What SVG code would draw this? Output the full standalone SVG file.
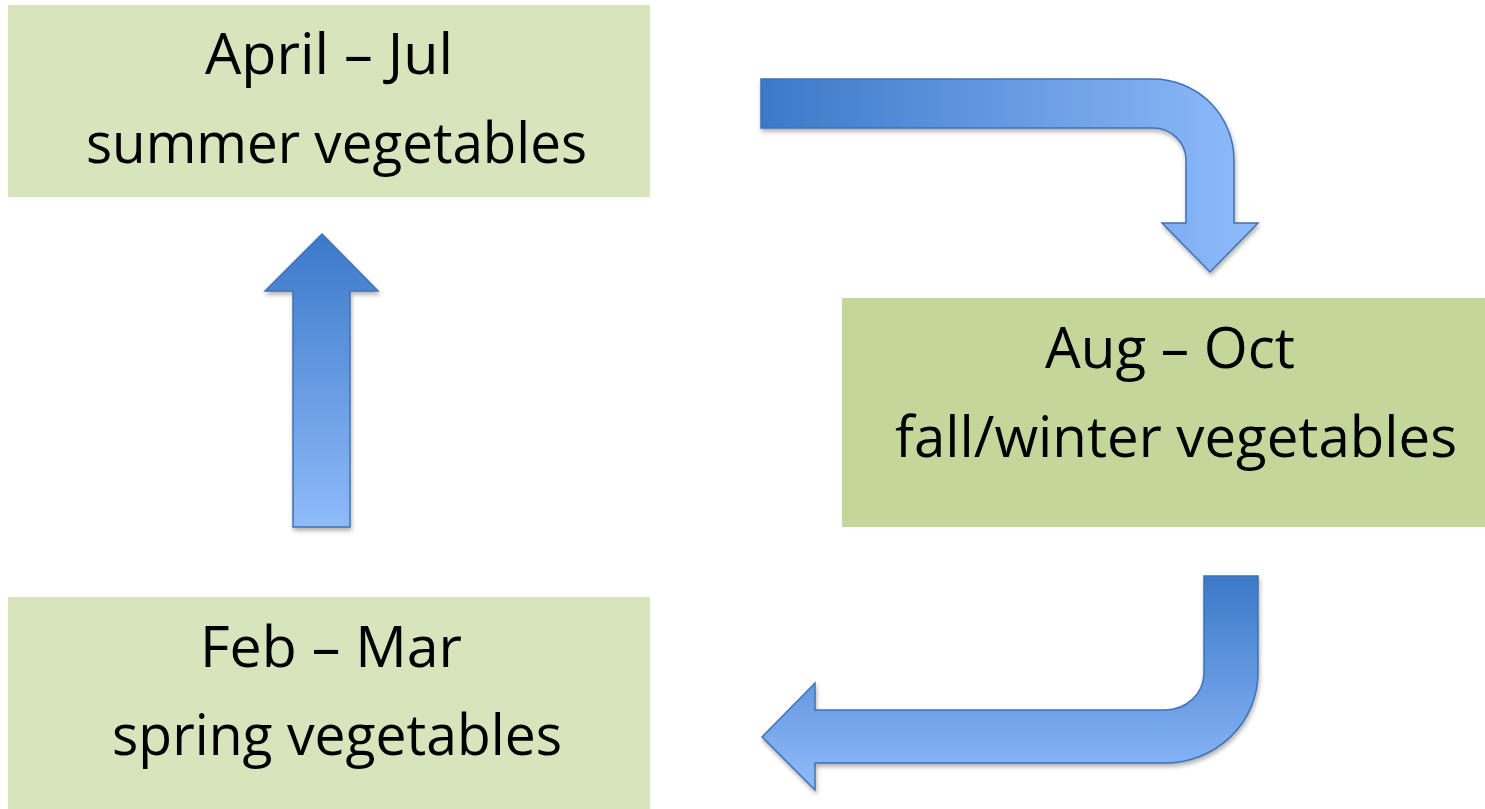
<svg xmlns="http://www.w3.org/2000/svg" width="1485" height="809" viewBox="0 0 1485 809">
<style>
.lbl{font-family:"Open Sans","Noto Sans","Liberation Sans",sans-serif;font-size:56px;fill:#000;text-anchor:middle}
.arr{stroke:#3f72b5;stroke-width:1.5;stroke-linejoin:miter;filter:url(#sh)}
</style>
<defs>
<filter id="sh" x="-10%" y="-10%" width="120%" height="130%">
<feDropShadow dx="1" dy="3" stdDeviation="2" flood-color="#000" flood-opacity="0.3"/>
</filter>
<linearGradient id="g1" gradientUnits="userSpaceOnUse" x1="761" y1="0" x2="1258" y2="0">
<stop offset="0" stop-color="#3c79c9"/><stop offset="1" stop-color="#8fbbfa"/>
</linearGradient>
<linearGradient id="g2" gradientUnits="userSpaceOnUse" x1="0" y1="576" x2="0" y2="790">
<stop offset="0" stop-color="#3c79c9"/><stop offset="1" stop-color="#8fbbfa"/>
</linearGradient>
<linearGradient id="g3" gradientUnits="userSpaceOnUse" x1="0" y1="234" x2="0" y2="527">
<stop offset="0" stop-color="#3c79c9"/><stop offset="1" stop-color="#8fbbfa"/>
</linearGradient>
</defs>
<rect width="1485" height="809" fill="#fff"/>
<g id="node-apr-jul">
<rect x="8" y="5" width="642" height="192" fill="#d8e4bc"/>
<text class="lbl" x="329" y="74" textLength="248" lengthAdjust="spacingAndGlyphs">April – Jul</text>
<text class="lbl" x="336.5" y="163" textLength="501" lengthAdjust="spacingAndGlyphs">summer vegetables</text>
</g>
<g id="node-aug-oct">
<rect x="842" y="298" width="643" height="229" fill="#c4d79b"/>
<text class="lbl" x="1170" y="368" textLength="250" lengthAdjust="spacingAndGlyphs">Aug – Oct</text>
<text class="lbl" x="1176" y="457" textLength="562" lengthAdjust="spacingAndGlyphs">fall/winter vegetables</text>
</g>
<g id="node-feb-mar">
<rect x="8" y="597" width="642" height="212" fill="#d8e4bc"/>
<text class="lbl" x="331" y="667" textLength="262" lengthAdjust="spacingAndGlyphs">Feb – Mar</text>
<text class="lbl" x="337" y="755" textLength="450" lengthAdjust="spacingAndGlyphs">spring vegetables</text>
</g>
<g id="connectors">
<path class="arr" fill="url(#g1)" d="M761,79 H1153 A81,81 0 0 1 1234,160 V223 H1258 L1210,272 L1162,223 H1186 V160 A33,32 0 0 0 1153,128 H761 Z"/>
<path class="arr" fill="url(#g2)" d="M1204,576 H1258 V673 A93,90 0 0 1 1165,763 H815 V790 L762,737 L815,683 V710 H1165 A39,37 0 0 0 1204,673 Z"/>
<path class="arr" fill="url(#g3)" d="M322,234 L378,291 H350 V527 H293 V291 H265 Z"/>
</g>
</svg>
